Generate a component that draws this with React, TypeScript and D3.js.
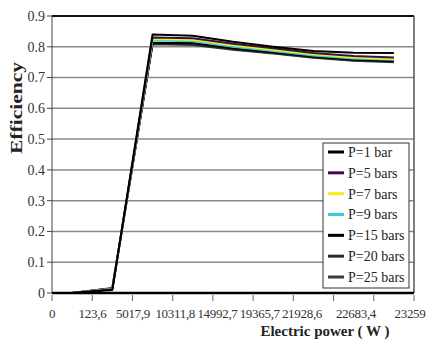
import React from "react";
import * as d3 from "d3";

// Category labels on the x axis (electric power, W)
const powerLabels = ["0", "123,6", "5017,9", "10311,8", "14992,7", "19365,7", "21928,6", "22683,4", "23259"];

// Efficiency per pressure level, one value per category
const seriesNames = ["P=1 bar", "P=5 bars", "P=7 bars", "P=9 bars", "P=15 bars", "P=20 bars", "P=25 bars"];
const effP1 = [0, 0.01, 0.84, 0.836, 0.816, 0.8, 0.786, 0.781, 0.78];
const effP5 = [0, 0.012, 0.83, 0.828, 0.81, 0.795, 0.78, 0.77, 0.765];
const effP7 = [0, 0.013, 0.825, 0.823, 0.805, 0.79, 0.776, 0.765, 0.76];
const effP9 = [0, 0.014, 0.82, 0.818, 0.8, 0.786, 0.772, 0.762, 0.758];
const effP15 = [0, 0.015, 0.812, 0.812, 0.795, 0.782, 0.768, 0.758, 0.754];
const effP20 = [0, 0.015, 0.81, 0.808, 0.792, 0.78, 0.766, 0.756, 0.752];
const effP25 = [0, 0.016, 0.808, 0.806, 0.79, 0.778, 0.764, 0.755, 0.75];
const seriesValues = [effP1, effP5, effP7, effP9, effP15, effP20, effP25];
const seriesColors = ["#000000", "#3b1040", "#f2ee1a", "#35d0e0", "#000000", "#2a2a2a", "#3a3a3a"];

const yTicks = [0, 0.1, 0.2, 0.3, 0.4, 0.5, 0.6, 0.7, 0.8, 0.9];

const W = 432;
const H = 345;
const left = 52;
const right = 414;
const top = 16;
const bottom = 293;
const txt = { fontFamily: '"Liberation Serif", "Times New Roman", "Tinos"' };

export default function App() {
  const x = d3.scaleBand<string>().domain(powerLabels).range([left, right]).paddingInner(0).paddingOuter(0);
  const y = d3.scaleLinear().domain([0, 0.9]).range([bottom, top]);
  // tick labels are spread a little wider towards the right end
  const labelX = d3.scaleLinear().domain([0, 2, 6, 8]).range([52, 133, 302, 410]);

  const line = d3
    .line<number>()
    .x((_, i) => (x(powerLabels[i]) as number) + x.bandwidth() / 2)
    .y((v) => y(v));

  const edges = powerLabels.map((c) => x(c) as number).concat([right]);

  const legX = 323;
  const legY = 143;
  const legW = 86;
  const legH = 145;
  const rowY = d3.scaleLinear().domain([0, 6]).range([152, 277]);

  return (
    <svg width={W} height={H} style={{ position: "absolute", left: 0, top: 0, background: "#fff" }}>
      <rect x={0} y={0} width={W} height={H} fill="#fff" />
      {/* horizontal gridlines */}
      {yTicks.slice(1, -1).map((t) => (
        <line key={t} x1={left} x2={right} y1={y(t)} y2={y(t)} stroke="#8a8a8a" strokeWidth={1.5} />
      ))}
      {/* frame */}
      <line x1={left} x2={right} y1={y(0.9)} y2={y(0.9)} stroke="#111" strokeWidth={2} />
      <line x1={right} x2={right} y1={top} y2={bottom} stroke="#555" strokeWidth={1.5} />
      <line x1={left} x2={left} y1={top} y2={bottom} stroke="#444" strokeWidth={1} />

      {/* y ticks and labels */}
      {yTicks.map((t) => (
        <g key={t}>
          <line x1={left - 5} x2={left} y1={y(t)} y2={y(t)} stroke="#444" strokeWidth={1} />
          <text x={45} y={y(t)} dy="0.35em" textAnchor="end" style={txt} fontSize={14} fill="#333">
            {t === 0 ? "0" : t.toFixed(1)}
          </text>
        </g>
      ))}

      {/* series */}
      {seriesValues
        .map((vals, i) => ({ vals, i }))
        .reverse()
        .map(({ vals, i }) => (
          <path key={i} d={line(vals) || ""} fill="none" stroke={seriesColors[i]} strokeWidth={2} strokeLinejoin="round" />
        ))}

      {/* x axis */}
      <line x1={left} x2={right} y1={bottom} y2={bottom} stroke="#000" strokeWidth={2.5} />
      {edges.map((ex, i) => (
        <line key={i} x1={ex} x2={ex} y1={bottom + 2} y2={bottom + 8} stroke="#666" strokeWidth={1} />
      ))}
      {powerLabels.map((l, i) => (
        <text key={l} x={labelX(i)} y={318} textAnchor="middle" style={{ ...txt, letterSpacing: "-0.3px" }} fontSize={13} fill="#333">
          {l}
        </text>
      ))}

      {/* axis titles */}
      <text x={325} y={336} textAnchor="middle" style={txt} fontSize={15} fontWeight="bold" fill="#222">
        Electric power ( W )
      </text>
      <text
        transform="translate(22,108) rotate(-90)"
        textAnchor="middle"
        style={txt}
        fontSize={16}
        fontWeight="bold"
        fill="#222"
        textLength={92}
        lengthAdjust="spacingAndGlyphs"
      >
        Efficiency
      </text>

      {/* legend */}
      <rect x={legX} y={legY} width={legW} height={legH} fill="#fff" stroke="#333" strokeWidth={1} />
      {seriesNames.map((n, i) => (
        <g key={n}>
          <line x1={328} x2={344} y1={rowY(i)} y2={rowY(i)} stroke={seriesColors[i]} strokeWidth={3} />
          <text x={348} y={rowY(i)} dy="0.35em" style={txt} fontSize={14} fill="#222">
            {n}
          </text>
        </g>
      ))}
    </svg>
  );
}
